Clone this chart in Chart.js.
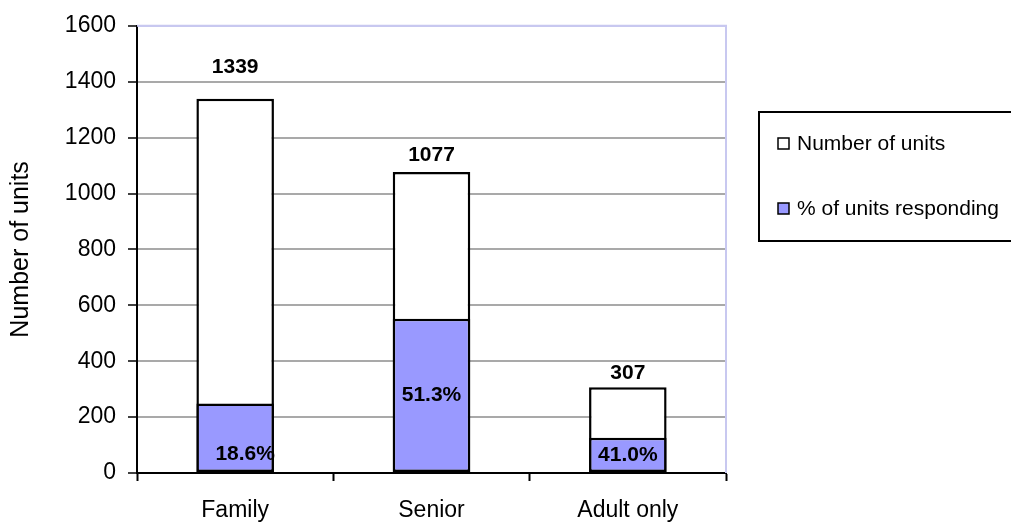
<!DOCTYPE html>
<html>
<head>
<meta charset="utf-8">
<script src="https://cdn.jsdelivr.net/npm/chart.js@4/dist/chart.umd.min.js"></script>
<style>
  html, body { margin: 0; padding: 0; background: #ffffff; }
  #wrap { width: 1011px; height: 522px; }
</style>
</head>
<body>
<div id="wrap"><canvas id="c" width="1011" height="522"></canvas></div>
<script>
// ---- data ----
const categories = ['Family', 'Senior', 'Adult only'];
const totalUnits = [1339, 1077, 307];
const respondingUnits = [249, 552, 126];
const respondingPct = [18.6, 51.3, 41.0];
const seriesNames = ['Number of units', '% of units responding'];
const yMin = 0, yMax = 1600, yStep = 200;

// ---- style ----
const FONT = "'Liberation Sans', Arial, sans-serif";
const BLUE = '#9999ff';
const GRID = '#a9a9a9';
const LAVENDER = '#c8c8f0';
const totalLabelGap = [32, 17, 14];      // px above bar top (label centre)
const pctLabelShift = [[10, 17], [0, 0], [0, 0]]; // [dx, dy] from centre of blue bar

const labelsPlugin = {
  id: 'customLabels',
  afterDatasetsDraw(chart) {
    const ctx = chart.ctx;
    const area = chart.chartArea;
    ctx.save();
    ctx.strokeStyle = LAVENDER;
    ctx.lineWidth = 2;
    ctx.beginPath();
    ctx.moveTo(area.left, area.top);
    ctx.lineTo(area.right, area.top);
    ctx.lineTo(area.right, area.bottom);
    ctx.stroke();
    ctx.restore();

    const totMeta = chart.getDatasetMeta(0);
    const resMeta = chart.getDatasetMeta(1);
    ctx.save();
    ctx.fillStyle = '#000';
    ctx.font = 'bold 21px ' + FONT;
    ctx.textAlign = 'center';
    ctx.textBaseline = 'middle';
    totMeta.data.forEach((bar, i) => {
      ctx.fillText(String(totalUnits[i]), bar.x, bar.y - totalLabelGap[i]);
    });
    resMeta.data.forEach((bar, i) => {
      const s = pctLabelShift[i];
      ctx.fillText(respondingPct[i].toFixed(1) + '%', bar.x + s[0], (bar.y + bar.base) / 2 + s[1]);
    });
    ctx.restore();
  },
  afterDraw(chart) {
    const ctx = chart.ctx;
    const area = chart.chartArea;
    const bx = area.right + 33, by = 112, bw = 320, bh = 129;
    ctx.save();
    ctx.strokeStyle = '#000';
    ctx.lineWidth = 2;
    ctx.strokeRect(bx, by, bw, bh);
    const rows = [143, 208];
    const fills = ['#ffffff', BLUE];
    ctx.font = '21px ' + FONT;
    ctx.textBaseline = 'middle';
    ctx.textAlign = 'left';
    rows.forEach((y, i) => {
      ctx.fillStyle = fills[i];
      ctx.fillRect(bx + 19, y - 5, 11, 11);
      ctx.lineWidth = 1.5;
      ctx.strokeStyle = '#000';
      ctx.strokeRect(bx + 19, y - 5, 11, 11);
      ctx.fillStyle = '#000';
      ctx.fillText(seriesNames[i], bx + 38, y + 1);
    });
    ctx.restore();
  }
};

new Chart(document.getElementById('c'), {
  type: 'bar',
  data: {
    labels: categories,
    datasets: [
      {
        label: seriesNames[0],
        data: totalUnits,
        backgroundColor: '#ffffff',
        borderColor: '#000000',
        borderWidth: 2.5,
        borderSkipped: false,
        grouped: false,
        order: 2,
        categoryPercentage: 1,
        barPercentage: 0.395
      },
      {
        label: seriesNames[1],
        data: respondingUnits,
        backgroundColor: BLUE,
        borderColor: '#000000',
        borderWidth: 2.5,
        borderSkipped: false,
        grouped: false,
        order: 1,
        categoryPercentage: 1,
        barPercentage: 0.395
      }
    ]
  },
  options: {
    responsive: false,
    maintainAspectRatio: false,
    devicePixelRatio: 1,
    animation: false,
    layout: { padding: { top: 23, right: 285, left: 0, bottom: 0 } },
    plugins: {
      legend: { display: false },
      tooltip: { enabled: false },
      title: { display: false }
    },
    scales: {
      x: {
        offset: true,
        afterFit(scale) { scale.height = 49; },
        grid: {
          display: true,
          drawOnChartArea: false,
          drawTicks: true,
          tickLength: 8,
          tickColor: '#000',
          tickWidth: 2,
          offset: true
        },
        border: { display: true, color: '#000', width: 2 },
        ticks: {
          color: '#000',
          font: { family: FONT, size: 23 },
          padding: 16,
          maxRotation: 0
        }
      },
      y: {
        min: yMin,
        max: yMax,
        afterFit(scale) { scale.width = 137; },
        ticks: {
          stepSize: yStep,
          color: '#000',
          font: { family: FONT, size: 23 },
          padding: 12,
          callback: (v) => String(v)
        },
        grid: {
          color: (c) => (c.tick && c.tick.value === yMax) ? LAVENDER : GRID,
          lineWidth: 2,
          tickColor: '#000',
          tickWidth: 1.5,
          tickLength: 9
        },
        border: { display: true, color: '#000', width: 2 },
        title: {
          display: true,
          text: 'Number of units',
          color: '#000',
          font: { family: FONT, size: 25 },
          padding: { top: 6, bottom: 0 }
        }
      }
    }
  },
  plugins: [labelsPlugin]
});
</script>
</body>
</html>
